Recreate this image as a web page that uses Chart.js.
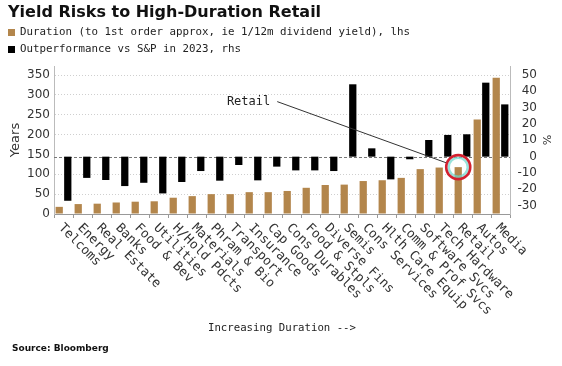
<!DOCTYPE html>
<html>
<head>
<meta charset="utf-8">
<script src="https://cdn.jsdelivr.net/npm/chart.js@4.4.1/dist/chart.umd.min.js"></script>
<style>
  html, body { margin: 0; padding: 0; background: #fff; }
</style>
</head>
<body>
<canvas id="chart" width="562" height="366"></canvas>
<script>
// data
const categories = ['Telcoms', 'Energy', 'Real Estate', 'Banks', 'Food & Bev', 'Utilities',
  'H/Hold Pdcts', 'Materials', 'Phram & Bio', 'Transport', 'Insurance', 'Cap Goods',
  'Cons Durables', 'Food & Stpls', 'Diverse Fins', 'Semis', 'Cons Services', 'Hlth Care Equip',
  'Comm & Prof Svcs', 'Software Svcs', 'Tech Hardware', 'Retail', 'Autos', 'Media'];
const duration = [18, 25, 26, 29, 31, 32, 41, 45, 50, 50, 55, 55, 58, 66, 73, 74, 83, 85, 91, 113, 117, 118, 238, 343];
const outperf = [-27, -13, -14.3, -18, -16, -22.5, -15.5, -8.8, -14.7, -5.1, -14.5, -6.1, -8.4, -8.4, -8.8,
  44.3, 5.1, -13.9, -1.6, 10.2, 13.3, 13.7, 45.3, 32];
const leftTicks = [0, 50, 100, 150, 200, 250, 300, 350];
const rightTicks = [-30, -20, -10, 0, 10, 20, 30, 40, 50];

const BROWN = '#b3864c';
const mono = '"DejaVu Sans Mono", monospace';
const sans = '"DejaVu Sans", sans-serif';

// zero line of the rhs axis, behind the bars
const zeroLine = {
  id: 'zeroLine',
  beforeDatasetsDraw(chart) {
    const {ctx, chartArea} = chart;
    const y = Math.round(chart.scales.y1.getPixelForValue(0)) + 0.5;
    ctx.save();
    ctx.strokeStyle = '#777';
    ctx.lineWidth = 1;
    ctx.setLineDash([3, 2]);
    ctx.beginPath();
    ctx.moveTo(chartArea.left, y);
    ctx.lineTo(chartArea.right, y);
    ctx.stroke();
    ctx.restore();
  }
};

const decor = {
  id: 'decor',
  afterDraw(chart) {
    const ctx = chart.ctx;
    const xs = chart.scales.x;
    const yl = chart.scales.y;
    const area = chart.chartArea;
    ctx.save();

    // title
    ctx.fillStyle = '#111';
    ctx.textAlign = 'left';
    ctx.textBaseline = 'alphabetic';
    ctx.font = 'bold 16px ' + sans;
    ctx.fillText('Yield Risks to High-Duration Retail', 8, 17);

    // legend
    ctx.font = '10.8px ' + mono;
    ctx.textBaseline = 'middle';
    ctx.fillStyle = BROWN;
    ctx.fillRect(8, 29, 7, 7);
    ctx.fillStyle = '#000';
    ctx.fillRect(8, 46, 7, 7);
    ctx.fillStyle = '#222';
    ctx.fillText('Duration (to 1st order approx, ie 1/12m dividend yield), lhs', 20, 32.5);
    ctx.fillText('Outperformance vs S&P in 2023, rhs', 20, 49.5);

    // category labels, rotated down to the right
    ctx.font = '12.8px ' + mono;
    ctx.fillStyle = '#333';
    categories.forEach((c, i) => {
      const px = xs.getPixelForValue(i);
      ctx.save();
      ctx.translate(px - 3, 226);
      ctx.rotate(Math.PI / 4);
      ctx.textAlign = 'left';
      ctx.textBaseline = 'middle';
      ctx.fillText(c, 0, 0);
      ctx.restore();
    });

    // rhs unit
    ctx.save();
    ctx.font = '11px ' + sans;
    ctx.fillStyle = '#333';
    ctx.translate(546, (area.top + area.bottom) / 2);
    ctx.rotate(Math.PI / 2);
    ctx.textAlign = 'center';
    ctx.textBaseline = 'middle';
    ctx.fillText('%', 0, 0);
    ctx.restore();

    // x axis title
    ctx.font = '10.7px ' + mono;
    ctx.fillStyle = '#222';
    ctx.textBaseline = 'middle';
    ctx.fillText('Increasing Duration -->', 208, 328);

    // source
    ctx.font = 'bold 9px ' + sans;
    ctx.fillStyle = '#111';
    ctx.fillText('Source: Bloomberg', 12, 349);

    // Retail call-out
    const ri = categories.indexOf('Retail');
    const bar = chart.getDatasetMeta(0).data[ri];
    const cx = bar.x, cy = bar.y;
    ctx.font = '12px ' + mono;
    ctx.fillStyle = '#222';
    const tx = xs.getPixelForValue(8.6);
    const ty = yl.getPixelForValue(283);
    ctx.fillText('Retail', tx, ty);
    const lx = tx + ctx.measureText('Retail').width + 7;
    const ang = Math.atan2(ty - cy, lx - cx);
    const r = 12;
    ctx.strokeStyle = '#333';
    ctx.lineWidth = 1;
    ctx.beginPath();
    ctx.moveTo(lx, ty);
    ctx.lineTo(cx + Math.cos(ang) * (r + 1), cy + Math.sin(ang) * (r + 1));
    ctx.stroke();

    ctx.strokeStyle = 'rgba(110,215,205,0.7)';
    ctx.lineWidth = 2.5;
    ctx.beginPath();
    ctx.arc(cx, cy, r - 2.5, 0, Math.PI * 2);
    ctx.stroke();
    ctx.strokeStyle = '#d3202f';
    ctx.lineWidth = 2.6;
    ctx.beginPath();
    ctx.arc(cx, cy, r, 0, Math.PI * 2);
    ctx.stroke();

    ctx.restore();
  }
};

new Chart(document.getElementById('chart'), {
  type: 'bar',
  data: {
    labels: categories,
    datasets: [
      {
        label: 'Duration (to 1st order approx, ie 1/12m dividend yield), lhs',
        data: duration,
        yAxisID: 'y',
        backgroundColor: BROWN,
        categoryPercentage: 0.9,
        barPercentage: 0.85
      },
      {
        label: 'Outperformance vs S&P in 2023, rhs',
        data: outperf,
        yAxisID: 'y1',
        backgroundColor: '#000',
        categoryPercentage: 0.9,
        barPercentage: 0.85
      }
    ]
  },
  options: {
    responsive: false,
    animation: false,
    layout: { padding: { top: 66, left: 0, right: 25, bottom: 0 } },
    plugins: {
      legend: { display: false },
      title: { display: false },
      tooltip: { enabled: false }
    },
    scales: {
      x: {
        offset: true,
        grid: { display: true, drawOnChartArea: false, drawTicks: true, tickLength: 4, color: '#999', offset: true },
        border: { display: true, color: '#999' },
        ticks: { display: false },
        afterFit: s => { s.height = 152; }
      },
      y: {
        position: 'left',
        min: 0,
        max: 372.7,
        afterBuildTicks: s => { s.ticks = leftTicks.map(v => ({ value: v })); },
        afterFit: s => { s.width = 54; },
        grid: {
          color: c => (c.tick && c.tick.value === 150) ? 'rgba(0,0,0,0)' : '#cfcfcf',
          drawTicks: false
        },
        border: { display: true, color: '#bbb', dash: [1, 2] },
        ticks: { padding: 4, color: '#333', font: { family: sans, size: 12 } },
        title: { display: true, text: 'Years', color: '#333', font: { family: sans, size: 13 }, padding: { top: 8, bottom: 0 } }
      },
      y1: {
        position: 'right',
        min: -35.1,
        max: 55.5,
        afterBuildTicks: s => { s.ticks = rightTicks.map(v => ({ value: v })); },
        afterFit: s => { s.width = 27; },
        grid: { display: false, drawTicks: false },
        border: { display: true, color: '#bbb' },
        ticks: { padding: 7, crossAlign: 'far', color: '#333', font: { family: sans, size: 12 } },
        title: { display: false }
      }
    }
  },
  plugins: [zeroLine, decor]
});
</script>
</body>
</html>
